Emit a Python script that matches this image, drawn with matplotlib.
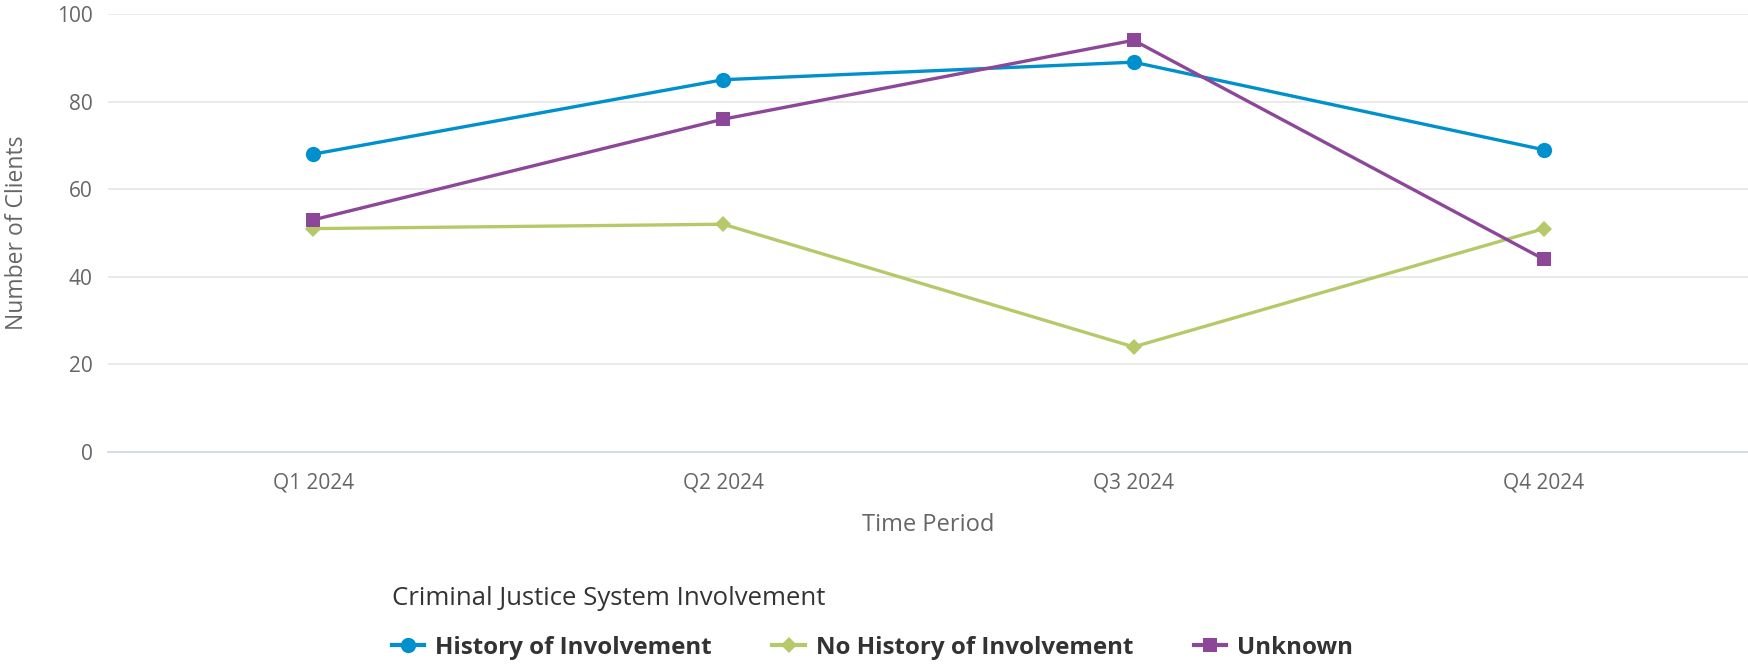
import matplotlib
matplotlib.use("Agg")
import matplotlib.pyplot as plt
from matplotlib.lines import Line2D

plt.rcParams['font.family'] = ['Open Sans', 'DejaVu Sans']

periods = ["Q1 2024", "Q2 2024", "Q3 2024", "Q4 2024"]
history = [68, 85, 89, 69]
no_history = [51, 52, 24, 51]
unknown = [53, 76, 94, 44]
series_names = ["History of Involvement", "No History of Involvement", "Unknown"]
y_ticks = [0, 20, 40, 60, 80, 100]

colors = ["#0090cc", "#b5c969", "#8c4799"]
markers = ["o", "D", "s"]
msizes = [11, 8.5, 10.5]

W, H = 1749, 665
fig = plt.figure(figsize=(W / 100, H / 100), dpi=100)
ax = fig.add_axes([108 / W, 1 - 452 / H, 1 - 108 / W, (452 - 14) / H])

x = list(range(len(periods)))
for vals, c, m, ms, name in zip([history, no_history, unknown], colors, markers, msizes, series_names):
    ax.plot(x, vals, color=c, lw=2.4, marker=m, markersize=ms, markeredgewidth=0, label=name,
            solid_joinstyle='round', zorder=3)

ax.set_xlim(-0.5, len(periods) - 0.5)
ax.set_ylim(0, 100)
ax.set_yticks(y_ticks)
ax.set_xticks(x)
ax.set_xticklabels(periods)
ax.grid(axis='y', color='#e6e6e6', lw=1.2)
ax.set_axisbelow(True)
for s in ['top', 'right', 'left']:
    ax.spines[s].set_visible(False)
ax.spines['bottom'].set_color('#ccd6eb')
ax.spines['bottom'].set_linewidth(1.2)
ax.tick_params(axis='both', length=0, labelsize=15, labelcolor='#666666')
ax.tick_params(axis='y', pad=11)
ax.tick_params(axis='x', pad=15)

ax.set_xlabel("Time Period", fontsize=17, color='#666666', labelpad=14)
ax.set_ylabel("Number of Clients", fontsize=16.5, color='#666666', labelpad=20)

handles = [Line2D([0], [0], color=c, lw=3, marker=m, markersize=ms, markeredgewidth=0)
           for c, m, ms in zip(colors, markers, msizes)]
leg = fig.legend(handles, series_names, loc='upper left', bbox_to_anchor=(370 / W, 1 - 564 / H),
                 ncol=3, frameon=False, title="Criminal Justice System Involvement",
                 alignment='left', handlelength=1.35, handletextpad=0.45, columnspacing=2.5,
                 prop={'weight': 'bold', 'size': 17.4}, title_fontproperties={'size': 18.5})
leg.get_title().set_color('#333333')
for t in leg.get_texts():
    t.set_color('#333333')
leg._legend_box.sep = 18

fig.savefig("out.png", dpi=100)
